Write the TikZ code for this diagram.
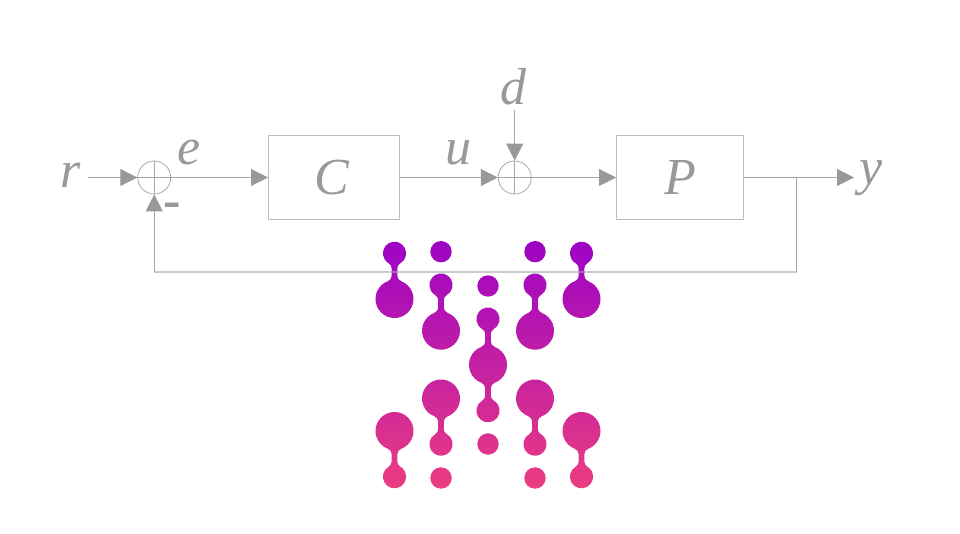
\documentclass[tikz,border=0pt]{standalone}
\usepackage{fontspec}
\setmainfont{Liberation Serif}
\usetikzlibrary{arrows.meta}
\definecolor{tipgray}{HTML}{999999}
\definecolor{linegray}{HTML}{A8A8A8}
\definecolor{boxgray}{HTML}{BDBDBD}
\definecolor{blobtop}{HTML}{9C03C6}
\definecolor{blobbot}{HTML}{EC3D80}
\tikzset{
  x=1pt,y=1pt,
  sig/.style={draw=linegray,line width=1pt,-{Triangle[length=17pt,width=17pt,color=tipgray]}},
  wire/.style={draw=linegray,line width=1pt},
  blockbox/.style={draw=boxgray,line width=1pt,inner sep=0pt,text=tipgray,font=\itshape\fontsize{52}{52}\selectfont},
  sumnode/.style={circle,draw=linegray,line width=.8pt,inner sep=0pt,minimum size=33pt},
  lab/.style={anchor=base,inner sep=0pt,text=tipgray,font=\itshape\fontsize{52}{52}\selectfont},
  smalltop/.style 2 args={insert path={
    ([shift={(#1,#2)}]5.8,-10.05) arc[start angle=-60,end angle=240,radius=11.6pt]
    arc[start angle=60,end angle=0,radius=6pt] -- ++(0,-7.06)
    arc[start angle=0,end angle=-69.39,radius=6pt]
    arc[start angle=110.61,end angle=429.39,radius=19pt]
    arc[start angle=249.39,end angle=180,radius=6pt] -- ++(0,7.06)
    arc[start angle=180,end angle=120,radius=6pt] -- cycle}},
  bigup/.style 2 args={insert path={
    ([shift={(#1,#2)}]6.69,-17.78) arc[start angle=-69.39,end angle=249.39,radius=19pt]
    arc[start angle=69.39,end angle=0,radius=6pt] -- ++(0,-7.06)
    arc[start angle=0,end angle=-60,radius=6pt]
    arc[start angle=120,end angle=420,radius=11.6pt]
    arc[start angle=240,end angle=180,radius=6pt] -- ++(0,7.06)
    arc[start angle=180,end angle=110.61,radius=6pt] -- cycle}},
}
\begin{document}
\begin{tikzpicture}
\useasboundingbox (0,0) rectangle (960,533);
% blobs: y is 533 minus the pixel row
\path[top color=blobtop,bottom color=blobbot,shading angle=0]
  [smalltop={394.5}{279.7}] [smalltop={581.5}{279.7}]
  [smalltop={441}{248}] [smalltop={535}{248}]
  [smalltop={488}{214}]
  [bigup={488}{168}]
  [bigup={441}{134.5}] [bigup={535}{134.5}]
  [bigup={394.5}{102}] [bigup={581.5}{102}]
  (441,281.3) circle[radius=10.7pt] (535,281.3) circle[radius=10.7pt]
  (488,247) circle[radius=10.7pt] (488,89) circle[radius=10.7pt]
  (441,55) circle[radius=10.7pt] (535,55) circle[radius=10.7pt];

\node[blockbox,minimum width=130.5pt,minimum height=84pt] (C) at (333.75,355.5) {C\hspace*{4pt}};
\node[blockbox,minimum width=127pt,minimum height=84pt] (P) at (680,355.5) {P};
\node[sumnode] (s1) at (154.2,355.5) {};
\node[sumnode] (s2) at (514.7,355.5) {};
\draw[line width=.8pt,draw=linegray] (s1.north) -- (s1.south) (s1.west) -- (s1.east);
\draw[line width=.8pt,draw=linegray] (s2.north) -- (s2.south) (s2.west) -- (s2.east);

\node[lab] (r) at (71,345) {r};
\node[lab] (e) at (189,368) {e};
\node[lab] (u) at (458,368) {u};
\node[lab] (d) at (513,428.5) {d};
\node[lab] (y) at (871,348) {y};
\node[anchor=base,inner sep=0pt,text=tipgray,font=\bfseries\fontsize{52}{52}\selectfont] (minus) at (172,315.5) {-};

\coordinate (rs) at (88,355.5);
\coordinate (ds) at (514.7,423);
\coordinate (ye) at (854,355.5);
\coordinate (tap) at (796.5,355.5);
\coordinate (fb1) at (796.5,261);
\coordinate (fb2) at (154.2,261);

\draw[sig] (rs) -- (s1.west);
\draw[sig] (s1.east) -- (C.west);
\draw[sig] (C.east) -- (s2.west);
\draw[sig] (ds) -- (s2.north);
\draw[sig] (s2.east) -- (P.west);
\draw[sig] (P.east) -- (ye);
\draw[wire] (tap) -- (fb1);
\draw[wire,draw opacity=.6,line width=1.4pt] (fb1) -- (fb2);
\draw[sig] (fb2) -- (s1.south);
\end{tikzpicture}
\end{document}
